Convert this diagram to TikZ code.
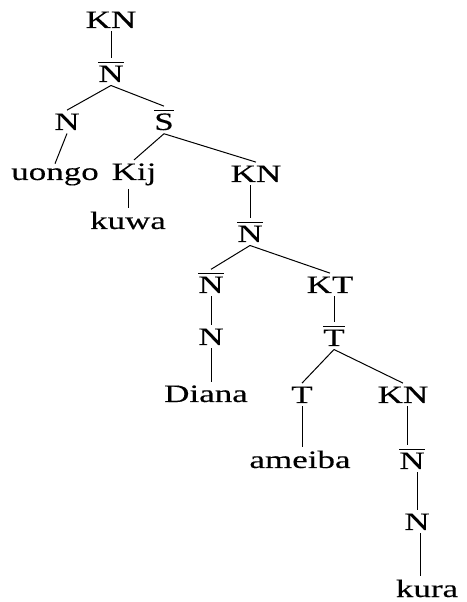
\documentclass[tikz,border=0pt]{standalone}
\usepackage{fontspec}
\setmainfont{Liberation Serif}[FakeStretch=1.4,FakeBold=0.25]
\usepackage{tikz}
\newcommand{\barred}[1]{\leavevmode\vbox{\hrule height 1.2pt\kern2.6pt\hbox{#1}}}

\begin{document}
\begin{tikzpicture}[x=1pt,y=1pt,line width=1pt,
  every node/.style={anchor=base,inner sep=3pt,font=\fontsize{25}{30}\selectfont}]
  \useasboundingbox (0,0) rectangle (466,602);
  \node (kn) at (111,574) {KN};
  \node (nbar) at (111,520) {\barred{N}};
  \node (n) at (67,472) {N};
  \node (sbar) at (164,472) {\barred{S}};
  \node (uongo) at (55,422) {uongo};
  \node (kij) at (134,422) {Kij};
  \node (kuwa) at (128,373) {kuwa};
  \node (kntwo) at (256,420) {KN};
  \node (nbartwo) at (250,360) {\barred{N}};
  \node (nbarthree) at (211,309) {\barred{N}};
  \node (kt) at (330,309) {KT};
  \node (nthree) at (211,257) {N};
  \node (tbar) at (334,256) {\barred{T}};
  \node (diana) at (206,200) {Diana};
  \node (t) at (302,199) {T};
  \node (knthree) at (403,199) {KN};
  \node (ameiba) at (300,134) {ameiba};
  \node (nbarfour) at (412,133) {\barred{N}};
  \node (nfour) at (417,72) {N};
  \node (kura) at (427,5) {kura};
  \draw (kn.south) -- (nbar.north);
  \draw (nbar.south) -- (n.north);
  \draw (nbar.south) -- (sbar.north);
  \draw (n.south) -- (uongo.north);
  \draw (sbar.south) -- (kij.north);
  \draw (sbar.south) -- (kntwo.north);
  \draw (kuwa.north |- kij.south) -- (kuwa.north);
  \draw (nbartwo.north |- kntwo.south) -- (nbartwo.north);
  \draw (nbartwo.south) -- (nbarthree.north);
  \draw (nbartwo.south) -- (kt.north);
  \draw (nbarthree.south) -- (nthree.north);
  \draw (tbar.north |- kt.south) -- (tbar.north);
  \draw (nthree.south) -- (nthree.south |- diana.north);
  \draw (tbar.south) -- (t.north);
  \draw (tbar.south) -- (knthree.north);
  \draw (t.south) -- (t.south |- ameiba.north);
  \draw ([xshift=4pt]knthree.south) -- ([xshift=4pt]knthree.south |- nbarfour.north);
  \draw (nfour.north |- nbarfour.south) -- (nfour.north);
  \draw ([xshift=3pt]nfour.south) -- ([xshift=3pt]nfour.south |- kura.north);
\end{tikzpicture}
\end{document}
